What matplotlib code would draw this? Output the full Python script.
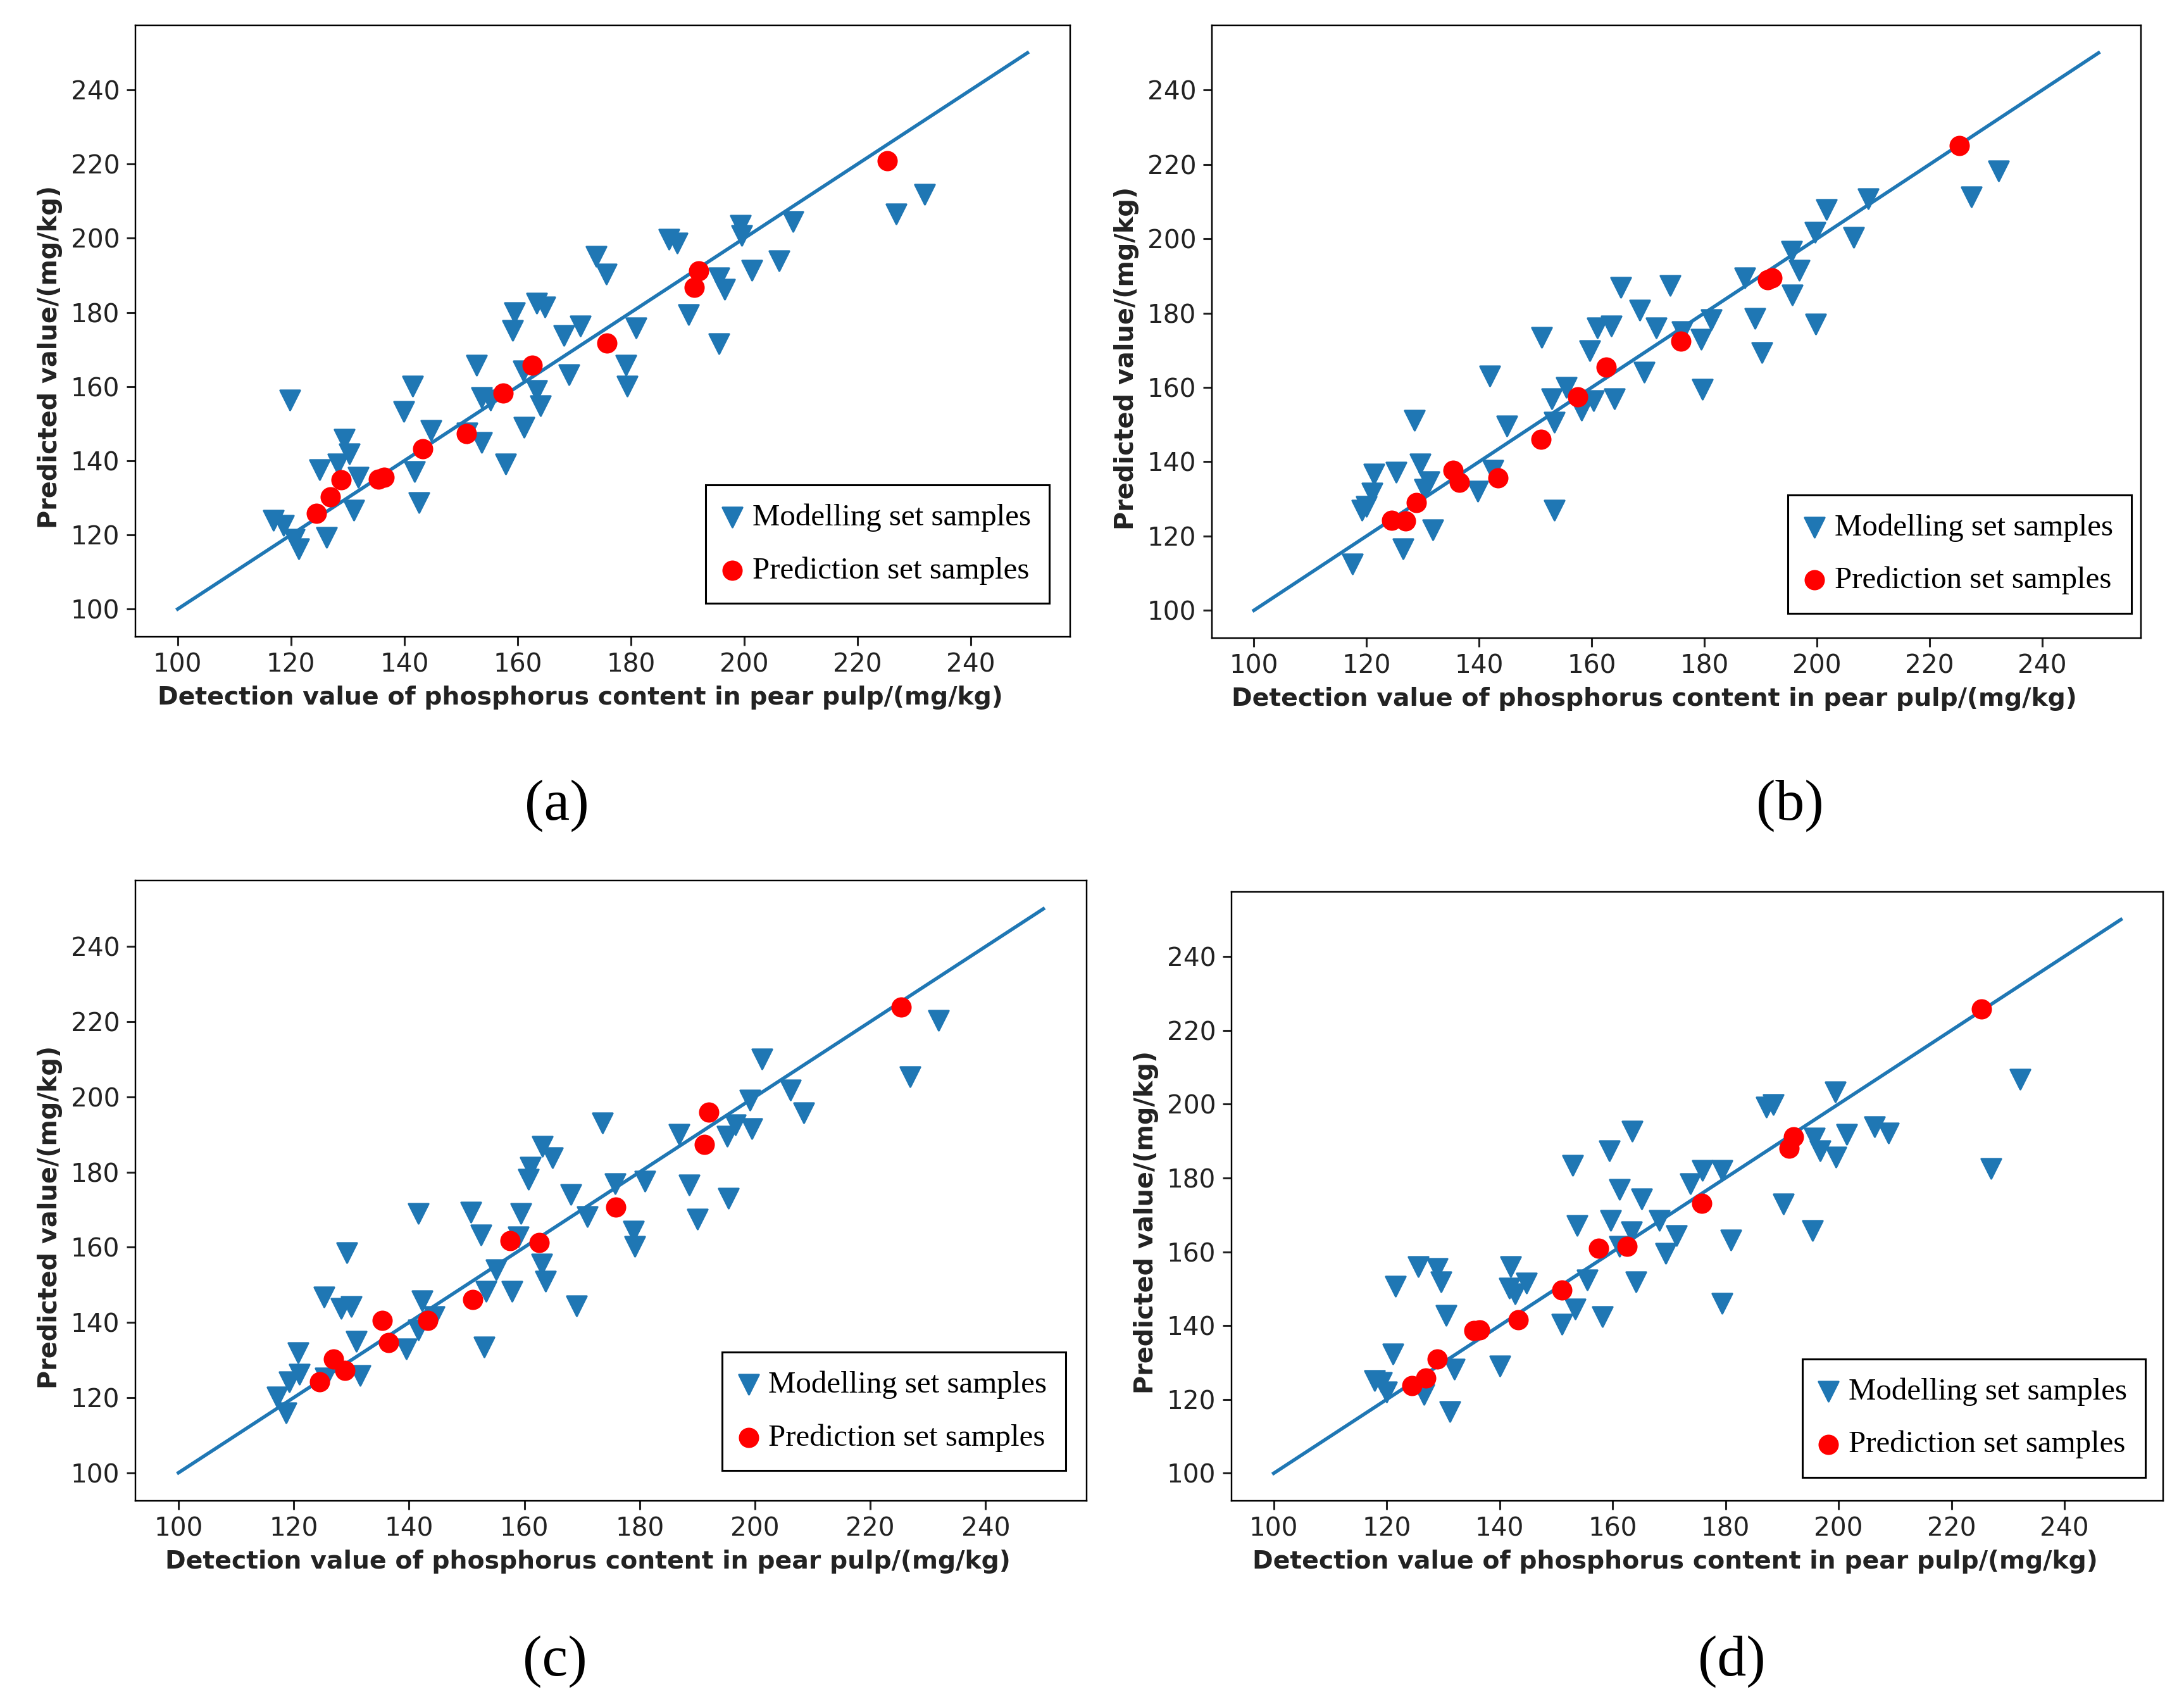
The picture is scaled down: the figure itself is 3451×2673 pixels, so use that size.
import matplotlib.pyplot as plt
import numpy as np

# prediction set: detection values (same samples in every panel)
pred_x = [124.5, 126.9, 128.9, 135.4, 136.5, 143.3, 151.0, 157.5, 162.6, 175.8, 191.2, 192.0, 225.3]

# panel (a)
a_pred_y = [125.8, 130.3, 134.8, 135.0, 135.5, 143.2, 147.3, 158.2, 165.8, 171.8, 186.7, 191.2, 220.9]
a_model_x = [119.8, 116.9, 118.7, 120.6, 121.4, 126.3, 125.1, 128.3, 129.4, 130.3, 131.9, 131.1,
             141.5, 139.9, 141.8, 142.6, 144.7, 151.1, 153.6, 152.7, 153.6, 155.2, 157.9, 161.1,
             159.5, 159.1, 161.0, 163.4, 164.0, 163.4, 164.8, 168.2, 171.1, 169.1, 173.9, 175.7,
             179.1, 179.3, 180.9, 186.7, 188.2, 190.2, 195.5, 196.6, 195.5, 199.3, 199.6, 201.4,
             206.2, 208.6, 226.8, 231.9]
a_model_y = [156.4, 124.0, 122.5, 118.8, 116.2, 119.3, 137.6, 139.2, 145.7, 141.8, 135.5, 126.6,
             160.1, 153.3, 137.1, 128.7, 148.1, 147.5, 144.9, 165.8, 157.0, 156.4, 139.2, 149.1,
             179.9, 175.2, 164.3, 159.0, 154.9, 182.5, 181.5, 173.7, 176.3, 163.2, 195.1, 190.4,
             165.8, 160.1, 175.8, 199.8, 198.7, 179.4, 189.3, 186.2, 171.6, 203.4, 200.8, 191.4,
             194.0, 204.5, 206.6, 211.8]

# panel (b)
b_pred_y = [124.3, 124.1, 129.0, 137.7, 134.4, 135.7, 146.0, 157.4, 165.5, 172.4, 188.9, 189.5, 225.1]
b_model_x = [117.5, 119.2, 120.0, 121.0, 121.3, 125.3, 126.5, 128.5, 129.5, 131.1, 130.3, 131.8,
             139.8, 141.9, 142.5, 144.9, 151.1, 152.9, 153.4, 153.4, 155.5, 158.2, 159.6, 160.3,
             161.0, 163.5, 164.0, 165.1, 168.5, 169.3, 171.4, 173.9, 176.0, 179.4, 179.6, 181.2,
             187.2, 189.0, 190.2, 195.5, 196.9, 195.6, 199.6, 199.8, 201.7, 206.5, 209.1, 227.4,
             232.2]
b_model_y = [112.4, 126.9, 127.9, 131.5, 136.7, 137.2, 116.5, 151.2, 139.3, 134.6, 132.6, 121.7,
             132.1, 163.1, 137.7, 149.6, 173.4, 156.9, 150.7, 126.9, 160.0, 153.8, 169.8, 156.4,
             176.0, 176.5, 156.9, 186.9, 180.7, 164.1, 176.0, 187.4, 175.0, 172.9, 159.5, 178.3,
             189.5, 178.6, 169.3, 196.7, 191.5, 184.8, 201.7, 177.0, 207.9, 200.3, 210.7, 211.2,
             218.2]

# panel (c)
c_pred_y = [124.2, 130.3, 127.2, 140.6, 134.7, 140.6, 146.1, 161.7, 161.2, 170.7, 187.4, 195.9, 223.9]
c_model_x = [117.1, 118.7, 119.2, 120.8, 121.0, 125.5, 125.2, 128.2, 130.0, 129.2, 130.8, 131.5,
             139.5, 141.6, 141.6, 142.3, 144.4, 150.7, 152.5, 153.0, 153.4, 155.1, 157.8, 159.0,
             159.4, 160.7, 161.0, 163.0, 163.7, 163.1, 164.9, 168.1, 169.1, 170.9, 173.5, 175.7,
             178.9, 179.1, 180.9, 186.8, 188.6, 190.0, 195.2, 195.4, 196.6, 199.1, 199.4, 201.2,
             206.2, 208.5, 226.9, 231.8]
c_model_y = [120.1, 115.9, 124.2, 131.9, 126.2, 125.2, 146.8, 143.7, 144.2, 158.6, 135.0, 125.9,
             132.9, 168.9, 138.0, 145.8, 141.6, 169.4, 163.2, 133.4, 148.3, 154.0, 148.3, 162.7,
             168.9, 178.1, 181.2, 155.5, 150.9, 186.9, 183.8, 174.0, 144.4, 168.1, 193.1, 176.9,
             164.3, 160.2, 177.6, 190.0, 176.6, 167.4, 189.5, 173.0, 192.5, 199.2, 191.5, 210.0,
             201.8, 195.8, 205.4, 220.3]

# panel (d)
d_pred_y = [123.7, 125.8, 130.9, 138.7, 138.9, 141.6, 149.7, 161.0, 161.5, 173.2, 188.1, 191.2, 225.7]
d_model_x = [117.9, 119.1, 120.0, 121.1, 121.6, 125.6, 126.6, 128.9, 129.6, 130.5, 132.0, 131.2,
             140.1, 141.9, 141.7, 142.7, 144.8, 151.0, 152.9, 153.4, 155.5, 153.7, 158.2, 159.4,
             159.6, 161.2, 161.2, 163.5, 163.3, 164.1, 165.1, 168.3, 169.4, 171.3, 173.8, 175.9,
             179.4, 179.4, 181.0, 187.2, 188.4, 190.3, 195.4, 195.7, 196.8, 199.5, 199.4, 201.5,
             206.4, 208.8, 227.0, 232.1]
d_model_y = [125.1, 124.6, 122.0, 132.4, 150.7, 156.0, 121.4, 155.4, 151.8, 142.7, 128.2, 116.7,
             129.0, 156.0, 150.2, 148.6, 151.6, 140.3, 183.5, 144.5, 152.3, 167.2, 142.4, 187.3,
             168.5, 176.9, 161.5, 192.6, 165.4, 151.8, 174.3, 168.5, 159.6, 164.3, 178.5, 182.1,
             182.1, 146.0, 163.1, 199.2, 199.9, 173.0, 165.7, 190.8, 187.3, 185.6, 203.3, 191.8,
             193.9, 192.1, 182.6, 206.7]

line_ends = [100, 250]
ticks = [100, 120, 140, 160, 180, 200, 220, 240]
panel_tags = ["(a)", "(b)", "(c)", "(d)"]


def plot_panel(ax, mx, my, px, py, leg_anchor):
    ax.plot(line_ends, line_ends, color="#1f77b4", lw=1.8)
    ax.scatter(mx, my, marker="v", s=105, color="#1f77b4", label="Modelling set samples", zorder=3)
    ax.scatter(px, py, marker="o", s=90, color="red", label="Prediction set samples", zorder=4)
    ax.set_xticks(ticks)
    ax.set_yticks(ticks)
    ax.tick_params(labelsize=13.3, width=1, length=4.5, colors="#222222")
    ax.set_xlabel("Detection value of phosphorus content in pear pulp/(mg/kg)",
                  fontsize=12.9, fontweight="bold", color="#222222", x=0.476)
    ax.set_ylabel("Predicted value/(mg/kg)", fontsize=13, fontweight="bold",
                  color="#222222", y=0.457)
    leg = ax.legend(loc="lower right", bbox_to_anchor=leg_anchor, borderaxespad=0,
                    prop={"family": "Liberation Serif", "size": 16},
                    fancybox=False, edgecolor="black", framealpha=1, scatterpoints=1,
                    handlelength=0.5, handletextpad=0.4, labelspacing=0.8, borderpad=0.6)
    leg.get_frame().set_linewidth(1.0)


fig = plt.figure(figsize=(3451 / 220, 2673 / 220), dpi=220)
boxes = [
    [0.0619, 0.6236, 0.428, 0.3616],
    [0.5548, 0.6228, 0.4254, 0.3624],
    [0.0619, 0.1129, 0.4356, 0.3666],
    [0.5638, 0.1129, 0.4267, 0.3600],
]
anchors = [(0.978, 0.055), (0.99, 0.041), (0.978, 0.049), (0.981, 0.039)]
data = [
    (a_model_x, a_model_y, a_pred_y),
    (b_model_x, b_model_y, b_pred_y),
    (c_model_x, c_model_y, c_pred_y),
    (d_model_x, d_model_y, d_pred_y),
]
for box, anchor, (mx, my, py) in zip(boxes, anchors, data):
    ax = fig.add_axes(box)
    plot_panel(ax, mx, my, pred_x, py, anchor)

tag_pos = [(0.255, 0.524), (0.8195, 0.524), (0.254, 0.018), (0.793, 0.018)]
for tag, (tx, ty) in zip(panel_tags, tag_pos):
    fig.text(tx, ty, tag, ha="center", va="center", family="Liberation Serif", fontsize=30)

fig.savefig("out.png", dpi=220)
